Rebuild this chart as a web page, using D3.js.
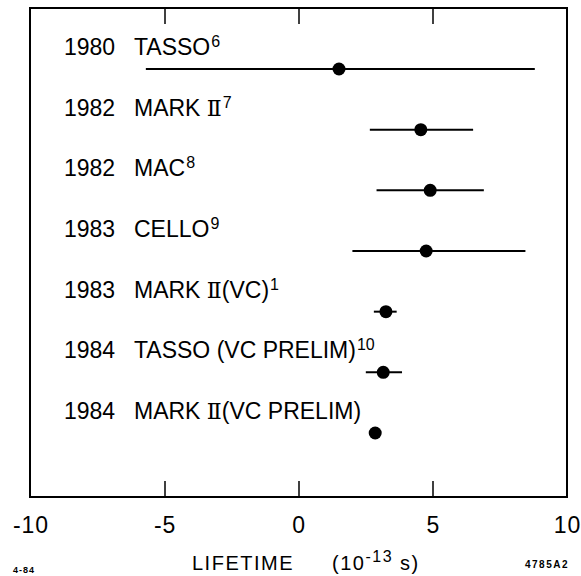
<!DOCTYPE html>
<html>
<head>
<meta charset="utf-8">
<script src="https://cdn.jsdelivr.net/npm/d3@7"></script>
<style>
  body { margin: 0; background: #fff; }
  text { font-family: "Liberation Sans", Arial, sans-serif; fill: #000; }
</style>
</head>
<body>
<script>
// measurements, one entry per row (top to bottom)
const years = ["1980", "1982", "1982", "1983", "1983", "1984", "1984"];
const names = ["TASSO", "MARK Ⅱ", "MAC", "CELLO", "MARK Ⅱ(VC)", "TASSO (VC PRELIM)", "MARK Ⅱ(VC PRELIM)"];
const refs = ["6", "7", "8", "9", "1", "10", ""];
const lifetime = [1.5, 4.55, 4.9, 4.75, 3.25, 3.15, 2.85];
const errLow = [-5.7, 2.65, 2.9, 2.0, 2.8, 2.5, null];
const errHigh = [8.8, 6.5, 6.9, 8.45, 3.65, 3.85, null];
const xTicks = [-10, -5, 0, 5, 10];

const W = 581, H = 576;
const frame = {left: 30, right: 567, top: 8, bottom: 497};

const rows = years.map((yr, i) => ({
  i, year: yr, name: names[i], ref: refs[i],
  v: lifetime[i], lo: errLow[i], hi: errHigh[i]
}));

const x = d3.scaleLinear().domain([-10, 10]).range([frame.left + 0.5, frame.right]);
const y = d3.scalePoint().domain(d3.range(rows.length)).range([69, 433]);

const svg = d3.select("body").append("svg")
    .attr("width", W)
    .attr("height", H);

// frame
svg.append("rect")
    .attr("x", frame.left).attr("y", frame.top)
    .attr("width", frame.right - frame.left).attr("height", frame.bottom - frame.top)
    .attr("fill", "none")
    .attr("stroke", "#000")
    .attr("stroke-width", 2);

// inner ticks, top and bottom (the end ones sit on the frame)
const inner = xTicks.filter(t => t > -10 && t < 10);
const tickG = svg.append("g")
    .attr("stroke", "#000")
    .attr("stroke-width", 1.5);
tickG.selectAll("line.bt")
  .data(inner)
  .join("line")
    .attr("class", "bt")
    .attr("x1", d => Math.round(x(d))).attr("x2", d => Math.round(x(d)))
    .attr("y1", frame.bottom).attr("y2", frame.bottom - 16);
tickG.selectAll("line.tt")
  .data(inner)
  .join("line")
    .attr("class", "tt")
    .attr("x1", d => Math.round(x(d))).attr("x2", d => Math.round(x(d)))
    .attr("y1", frame.top).attr("y2", frame.top + 16);

// tick labels
svg.append("g")
    .attr("transform", `translate(0,${frame.bottom})`)
    .call(d3.axisBottom(x).tickValues(xTicks).tickSize(0).tickPadding(20)
      .tickFormat(d => d < 0 ? "-" + Math.abs(d) : String(d)))
    .call(g => g.select(".domain").remove())
    .call(g => g.selectAll("text")
      .attr("font-size", 23)
      .attr("font-family", "Liberation Sans, Arial, sans-serif")
      .attr("letter-spacing", 1)
      .attr("fill", "#000"));

// error bars
const g = svg.append("g");
g.selectAll("line.err")
  .data(rows.filter(d => d.lo != null))
  .join("line")
    .attr("class", "err")
    .attr("x1", d => x(d.lo))
    .attr("x2", d => x(d.hi))
    .attr("y1", d => y(d.i))
    .attr("y2", d => y(d.i))
    .attr("stroke", "#000")
    .attr("stroke-width", 2);

g.selectAll("circle")
  .data(rows)
  .join("circle")
    .attr("cx", d => x(d.v))
    .attr("cy", d => y(d.i))
    .attr("r", 6.5)
    .attr("fill", "#000");

// row labels
const lab = svg.append("g").attr("font-size", 23);
lab.selectAll("text.year")
  .data(rows)
  .join("text")
    .attr("class", "year")
    .attr("x", 64)
    .attr("y", d => y(d.i) - 14)
    .text(d => d.year);

const nm = lab.selectAll("text.name")
  .data(rows)
  .join("text")
    .attr("class", "name")
    .attr("x", 134)
    .attr("y", d => y(d.i) - 14);
nm.each(function(d) {
  const t = d3.select(this);
  d.name.split("Ⅱ").forEach((part, k) => {
    if (k > 0) t.append("tspan")
        .attr("font-family", "DejaVu Serif")
        .attr("font-size", 22)
        .text("Ⅱ");
    if (part) t.append("tspan").text(part);
  });
  t.append("tspan")
      .attr("font-size", 16)
      .attr("dy", -8)
      .attr("dx", 1)
      .text(d.ref);
});

// axis title
const title = svg.append("text")
    .attr("x", 192)
    .attr("y", 570)
    .attr("font-size", 20)
    .attr("letter-spacing", 1.5);
title.append("tspan").text("LIFETIME");
title.append("tspan").attr("x", 332).text("(10");
title.append("tspan").attr("font-size", 16).attr("dy", -8).text("-13");
title.append("tspan").attr("font-size", 20).attr("dy", 8).text("  s)");

// plate codes
svg.append("text")
    .attr("x", 13).attr("y", 573)
    .attr("font-size", 9).attr("font-weight", "bold").attr("letter-spacing", 1)
    .text("4-84");
svg.append("text")
    .attr("x", 525).attr("y", 568)
    .attr("font-size", 10).attr("font-weight", "bold").attr("letter-spacing", 1.5)
    .text("4785A2");
</script>
</body>
</html>
